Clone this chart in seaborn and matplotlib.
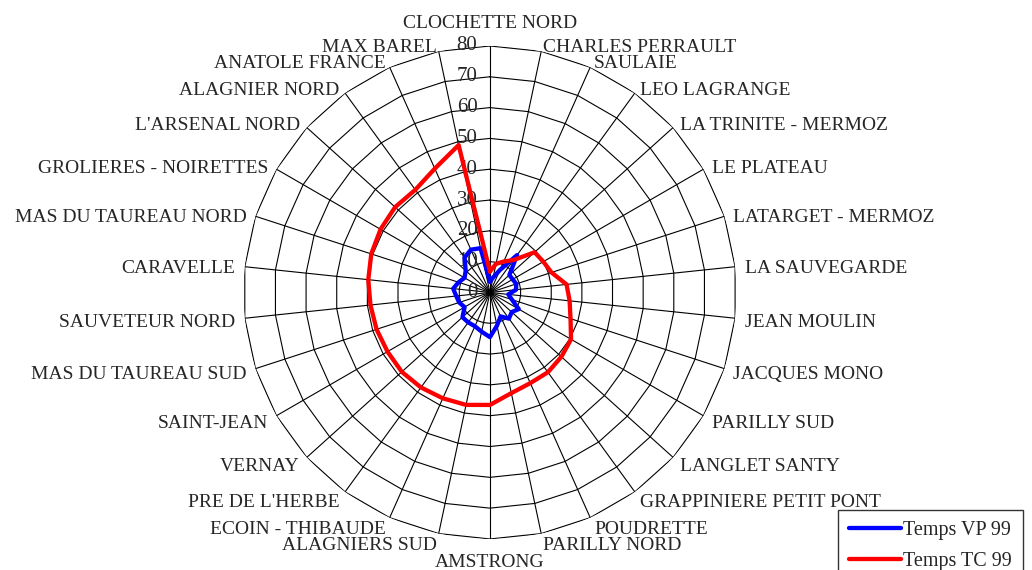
import numpy as np
import pandas as pd
import seaborn as sns
import matplotlib.pyplot as plt

# Quartiers (sens horaire depuis le haut)
quartiers = ["CLOCHETTE NORD", "CHARLES PERRAULT", "SAULAIE", "LEO LAGRANGE",
             "LA TRINITE - MERMOZ", "LE PLATEAU", "LATARGET - MERMOZ", "LA SAUVEGARDE",
             "JEAN MOULIN", "JACQUES MONO", "PARILLY SUD", "LANGLET SANTY",
             "GRAPPINIERE PETIT PONT", "POUDRETTE", "PARILLY NORD", "AMSTRONG",
             "ALAGNIERS SUD", "ECOIN - THIBAUDE", "PRE DE L'HERBE", "VERNAY",
             "SAINT-JEAN", "MAS DU TAUREAU SUD", "SAUVETEUR NORD", "CARAVELLE",
             "MAS DU TAUREAU NORD", "GROLIERES - NOIRETTES", "L'ARSENAL NORD",
             "ALAGNIER NORD", "ANATOLE FRANCE", "MAX BAREL"]

temps_vp = [3.5, 5, 8, 15, 8.5, 8.5, 9, 8.5, 6, 7.5, 10.8, 9.5, 10.5, 8.5, 11,
            14.5, 13, 12, 12, 12, 9.5, 10.5, 11, 12, 10.7, 9.5, 10.6, 14, 15.2, 14.7]
temps_tc = [6.8, 9.5, 11, 13, 19.5, 20, 21, 25, 26, 27.5, 30.4, 31.2, 32, 32.2, 33.4,
            36.5, 37.3, 37.6, 38.1, 38.5, 38.4, 38.7, 39, 39.7, 40.5, 41, 41.4, 41.2, 44, 48.9]

r_ticks = [0, 10, 20, 30, 40, 50, 60, 70, 80]

n = len(quartiers)
angles = np.arange(n) * 2 * np.pi / n
closed = np.append(angles, 2 * np.pi)

rows = []
for name, vals in [("Temps VP 99", temps_vp), ("Temps TC 99", temps_tc)]:
    v = list(vals) + [vals[0]]
    for t, val in zip(closed, v):
        rows.append({"theta": t, "value": val, "serie": name})
df = pd.DataFrame(rows)

sns.set_theme(style="white")
plt.rcParams['font.family'] = ['Liberation Serif', 'DejaVu Serif']

fig = plt.figure(figsize=(10.32, 5.7), dpi=100)
ax = fig.add_axes([0.2359, 0.0544, 0.4777, 0.865], projection='polar')
ax.set_theta_zero_location('N')
ax.set_theta_direction(-1)
ax.grid(False)
ax.spines['polar'].set_visible(False)
ax.set_xticks([])
ax.set_yticks([])

# grille polygonale facon Excel
for r in r_ticks[1:]:
    ax.plot(closed, [r] * (n + 1), color='black', lw=0.8, zorder=1)
for t in angles:
    ax.plot([t, t], [0, r_ticks[-1]], color='black', lw=0.8, zorder=1)

sns.lineplot(data=df, x='theta', y='value', hue='serie', sort=False, estimator=None,
             palette={"Temps VP 99": "#0000ff", "Temps TC 99": "#ff0000"},
             hue_order=["Temps VP 99", "Temps TC 99"], linewidth=3.1, ax=ax, zorder=3)
ax.set_xlabel('')
ax.set_ylabel('')
ax.set_ylim(0, 80)

h, l = ax.get_legend_handles_labels()
ax.get_legend().remove()
leg = fig.legend(h, l, loc='upper left', bbox_to_anchor=(0.812, 0.1053),
                 frameon=True, fancybox=False, edgecolor='black', fontsize=14.5,
                 handlelength=2.6, handletextpad=0.1, labelspacing=0.6,
                 borderpad=0.55, borderaxespad=0)
leg.get_frame().set_linewidth(1)

# etiquettes des quartiers
for t, name in zip(angles, quartiers):
    s = np.sin(t)
    c = np.cos(t)
    if abs(s) < 0.01:
        ha = 'center'
        va = 'bottom' if c > 0 else 'top'
        rr = 84.5 if c > 0 else 84.0
        dy = 0.0 if c > 0 else -2.2
    else:
        ha = 'left' if s > 0 else 'right'
        va = 'center'
        rr = 83.1
        dy = -(2.2 + 1.5 * max(c, 0))
    ax.annotate(name, xy=(t, rr), xytext=(0, dy), textcoords='offset points',
                ha=ha, va=va, fontsize=14, annotation_clip=False)

# valeurs de l'axe
for r in r_ticks:
    ax.annotate(str(r), xy=(0, r), xytext=(-9, 0), textcoords='offset points',
                ha='right', va='center', fontsize=15, zorder=2)

fig.savefig('out.png', dpi=100)
